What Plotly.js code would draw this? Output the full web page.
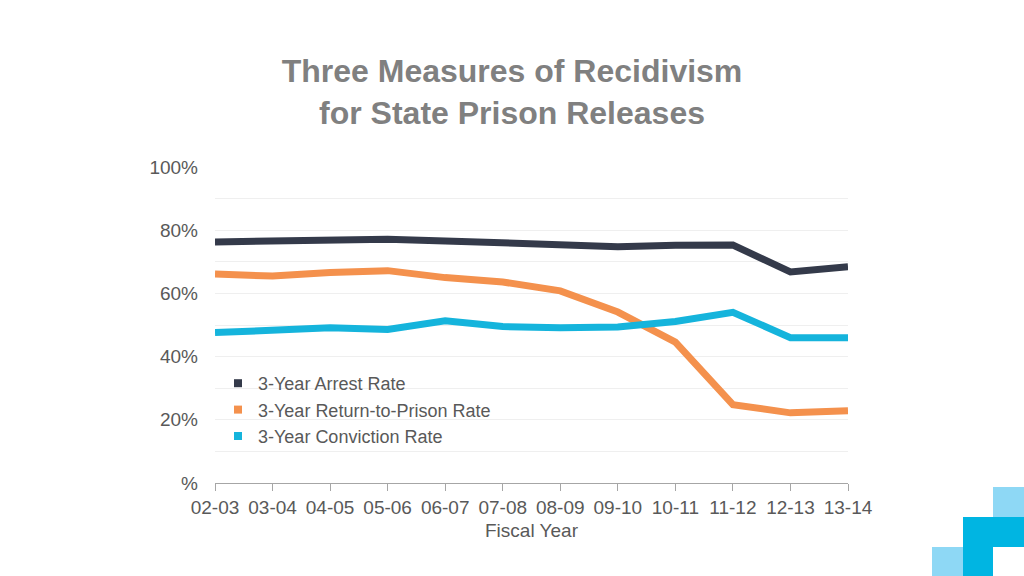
<!DOCTYPE html>
<html>
<head>
<meta charset="utf-8">
<script src="https://cdn.plot.ly/plotly-3.0.1.min.js"></script>
<style>html,body{margin:0;padding:0;background:#fff;}#chart{width:1024px;height:576px;}</style>
</head>
<body>
<div id="chart"></div>
<script>
const years = ["02-03","03-04","04-05","05-06","06-07","07-08","08-09","09-10","10-11","11-12","12-13","13-14"];
const arrestRate = [76.3,76.4,76.9,77.1,76.6,75.9,75.5,74.8,75.2,75.3,66.8,68.4];
const returnRate = [66.1,65.5,66.6,67.2,65.0,63.6,60.8,54.1,44.6,24.8,22.2,22.9];
const convictionRate = [47.6,48.4,49.1,48.6,51.3,49.5,49.1,49.4,51.1,54.0,46.0,46.0];
const seriesNames = ["3-Year Arrest Rate","3-Year Return-to-Prison Rate","3-Year Conviction Rate"];
const seriesColors = ["#343a4a","#f4914d","#15b4dc"];
const yTickVals = [0,20,40,60,80,100];
const yTickText = ["%","20%","40%","60%","80%","100%"];

const W = 1024, H = 576, L = 215, R = 848, T = 167, B = 483;
const px = x => (x - L) / (R - L);
const py = y => (B - y) / (B - T);

const allSeries = [arrestRate, returnRate, convictionRate];
const traces = [];
allSeries.forEach((vals, i) => {
  traces.push({
    x: years, y: vals, type: "scatter", mode: "lines",
    line: {color: seriesColors[i], width: 7},
    name: seriesNames[i], showlegend: false, hoverinfo: "x+y"
  });
});
allSeries.forEach((vals, i) => {
  traces.push({
    x: [null], y: [null], type: "scatter", mode: "markers",
    marker: {color: seriesColors[i], symbol: "square", size: 8},
    name: seriesNames[i], showlegend: true
  });
});

const rect = (x0, y0, x1, y1, color) => ({
  type: "rect", xref: "paper", yref: "paper",
  x0: px(x0), x1: px(x1), y0: py(y1), y1: py(y0),
  fillcolor: color, line: {width: 0}, layer: "above"
});

const layout = {
  width: W, height: H,
  margin: {l: L, r: W - R, t: T, b: H - B, pad: 0},
  paper_bgcolor: "#ffffff", plot_bgcolor: "#ffffff",
  font: {family: "Liberation Sans, Arial, sans-serif", color: "#595959", size: 19},
  title: {
    text: "<b>Three Measures of Recidivism<br>for State Prison Releases</b>",
    x: 0.5, xref: "container", y: 1 - 82 / H, yref: "container", yanchor: "middle",
    font: {size: 32, color: "#808080", family: "Liberation Sans, Arial, sans-serif"}
  },
  xaxis: {
    type: "category", range: [0, years.length - 1],
    showgrid: false, showline: true, linecolor: "#a6a6a6", linewidth: 1,
    ticks: "outside", ticklen: 7, tickcolor: "#a6a6a6", tickwidth: 1,
    tickfont: {size: 19, color: "#595959"},
    title: {text: "Fiscal Year", font: {size: 19, color: "#595959"}, standoff: 6},
    zeroline: false, fixedrange: true
  },
  yaxis: {
    range: [0, 100], tickvals: yTickVals, ticktext: yTickText,
    showgrid: true, gridcolor: "#efefef", gridwidth: 1,
    minor: {dtick: 10, tick0: 0, showgrid: true, gridcolor: "#efefef", gridwidth: 1, ticks: ""},
    showline: false, zeroline: false, ticks: "",
    ticklabelstandoff: 16,
    tickfont: {size: 19, color: "#595959"}, fixedrange: true
  },
  legend: {
    x: px(218), y: py(365), xanchor: "left", yanchor: "top",
    bgcolor: "rgba(0,0,0,0)", font: {size: 18, color: "#595959"},
    tracegroupgap: 0, itemwidth: 30
  },
  shapes: [
    rect(993, 487, 1024, 517, "#8ed8f5"),
    rect(963, 517, 1024, 547, "#00b5e2"),
    rect(963, 547, 993, 576, "#00b5e2"),
    rect(932, 547, 963, 576, "#8ed8f5")
  ]
};

Plotly.newPlot("chart", traces, layout, {displayModeBar: false, staticPlot: true});
</script>
</body>
</html>
